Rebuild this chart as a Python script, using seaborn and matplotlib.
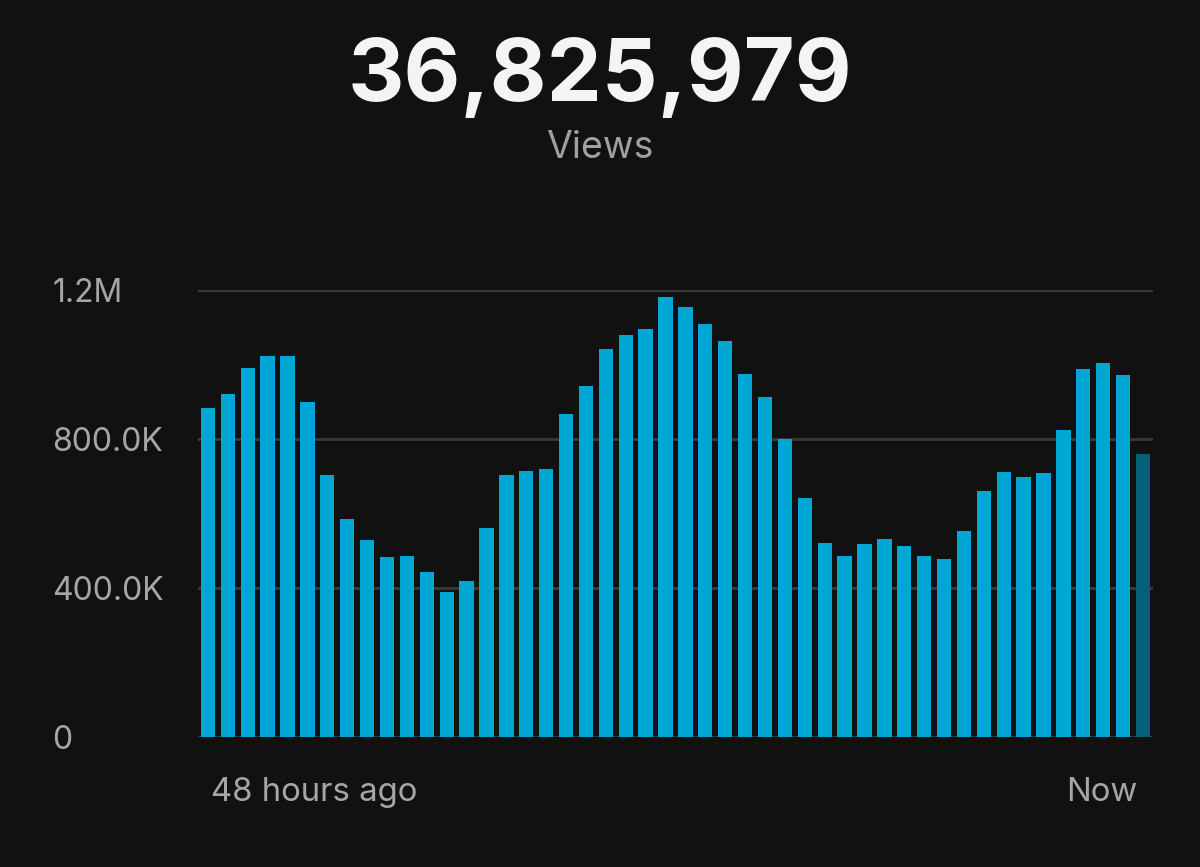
import numpy as np
import pandas as pd
import matplotlib.pyplot as plt
import seaborn as sns

# hourly views over the last 48 hours (oldest first), last hour still in progress
views = [
    884_000, 921_000, 990_000, 1_023_000, 1_023_000, 899_000, 704_000, 585_000,
    529_000, 484_000, 486_000, 442_000, 390_000, 418_000, 562_000, 704_000,
    714_000, 719_000, 867_000, 942_000, 1_041_000, 1_078_000, 1_094_000, 1_182_000,
    1_154_000, 1_108_000, 1_064_000, 974_000, 913_000, 799_000, 642_000, 522_000,
    486_000, 517_000, 532_000, 514_000, 486_000, 479_000, 552_000, 660_000,
    711_000, 697_000, 708_000, 824_000, 989_000, 1_004_000, 972_000, 761_000,
]
status = ["complete"] * 47 + ["partial"]
y_ticks = [0, 400_000, 800_000, 1_200_000]
y_tick_labels = ["0", "400.0K", "800.0K", "1.2M"]
x_tick_labels = ["48 hours ago", "Now"]
total_views = "36,825,979"

bg = "#111111"
palette = {"complete": "#00a7d4", "partial": "#045f78"}

sns.set_theme(style="dark")
plt.rcParams["font.family"] = ["Inter", "DejaVu Sans"]

df = pd.DataFrame({"hour": range(len(views)), "views": views, "status": status})

fig = plt.figure(figsize=(12, 8.67), dpi=100, facecolor=bg)
ax = fig.add_axes([0.165, 0.150, 0.7958, 0.5155])
ax.set_facecolor(bg)

sns.barplot(
    data=df,
    x="hour",
    y="views",
    hue="status",
    palette=palette,
    dodge=False,
    width=0.72,
    legend=False,
    saturation=1,
    linewidth=0,
    ax=ax,
    zorder=3,
)

ax.set_ylim(0, 1_200_000)
ax.set_xlim(-0.5, len(views) - 0.5)
ax.set_yticks(y_ticks)
ax.set_yticklabels(y_tick_labels, ha="left")
# labels sit just inside the first and last bars
ax.set_xticks([0.15, len(views) - 1.3])
ax.set_xticklabels(x_tick_labels)
xt = ax.get_xticklabels()
xt[0].set_ha("left")
xt[1].set_ha("right")

ax.grid(axis="y", color="#3a3a3a", linewidth=2)
ax.grid(axis="x", visible=False)
for side in ["top", "right", "left", "bottom"]:
    ax.spines[side].set_visible(False)

ax.tick_params(axis="y", length=0, pad=105, labelsize=23, labelcolor="#a6a6a6")
ax.tick_params(axis="x", length=0, pad=29, labelsize=23.7, labelcolor="#a6a6a6")
ax.set_xlabel("")
ax.set_ylabel("")

fig.text(0.5, 0.8835, total_views, ha="center", va="baseline",
         fontsize=63, fontweight="bold", color="#f4f4f4")
fig.text(0.5, 0.8174, "Views", ha="center", va="baseline",
         fontsize=27, color="#a0a0a0")

fig.savefig("out.png", dpi=100, facecolor=bg)
